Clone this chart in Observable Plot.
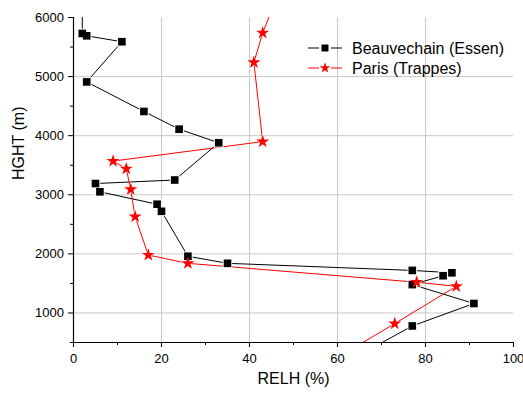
<!DOCTYPE html>
<html>
<head>
<meta charset="utf-8">
<script src="https://cdn.jsdelivr.net/npm/d3@7"></script>
<script src="https://cdn.jsdelivr.net/npm/@observablehq/plot@0.6"></script>
<style>
  html, body { margin: 0; padding: 0; background: #fff; }
  #wrap { position: relative; width: 523px; height: 394px; font-family: 'Liberation Sans', Arial, sans-serif; }
  #legend { position: absolute; left: 0; top: 0; pointer-events: none; }
</style>
</head>
<body>
<div id="wrap"></div>
<script>
// Beauvechain (Essen) sounding: relative humidity (%) and height (m)
const essenRelh = [2, 2, 3, 11, 3, 16, 24, 33, 23, 5, 6, 19, 20, 26, 35, 77, 86, 84, 77, 91, 77, 65];
const essenHght = [6300, 5730, 5690, 5590, 4910, 4410, 4110, 3880, 3250, 3190, 3050, 2840, 2720, 1960, 1840, 1720, 1680, 1630, 1480, 1160, 780, 290];
// Paris (Trappes) sounding
const trappesRelh = [46, 43, 41, 43, 9, 12, 13, 14, 17, 26, 78, 87, 73, 59];
const trappesHght = [6300, 5740, 5240, 3900, 3570, 3440, 3090, 2630, 1980, 1840, 1520, 1450, 820, 200];

const seriesNames = ["Beauvechain (Essen)", "Paris (Trappes)"];
const xMajor = [0, 20, 40, 60, 80, 100];
const xMinor = [10, 30, 50, 70, 90];
const yMajor = [1000, 2000, 3000, 4000, 5000, 6000];
const yMinor = [500, 1500, 2500, 3500, 4500, 5500];
const xGrid = [20, 40, 60, 80];
const yGrid = [1000, 2000, 3000, 4000, 5000];
const xTitle = "RELH (%)";
const yTitle = "HGHT (m)";

const essen = essenRelh.map((v, i) => ({relh: v, hght: essenHght[i]}));
const trappes = trappesRelh.map((v, i) => ({relh: v, hght: trappesHght[i]}));

const gridColor = "#c8c8c8";
const font = "'Liberation Sans', Arial, sans-serif";
const fmt = d3.format("d");

const chart = Plot.plot({
  width: 523,
  height: 394,
  marginLeft: 73,
  marginRight: 10,
  marginTop: 17,
  marginBottom: 52,
  x: {domain: [0, 100], axis: null, label: null},
  y: {domain: [500, 6000], axis: null, label: null},
  style: {fontFamily: font, fontSize: "13px", color: "#000", background: "#fff", overflow: "visible"},
  marks: [
    Plot.gridX(xGrid, {stroke: gridColor, strokeOpacity: 1, strokeWidth: 1}),
    Plot.gridY(yGrid, {stroke: gridColor, strokeOpacity: 1, strokeWidth: 1}),
    Plot.line(essen, {x: "relh", y: "hght", stroke: "#000", strokeWidth: 1, clip: true}),
    Plot.line(trappes, {x: "relh", y: "hght", stroke: "#ff0000", strokeWidth: 1, clip: true}),
    Plot.dot(essen, {x: "relh", y: "hght", symbol: "square", r: 5.4, fill: "#fff", stroke: null, clip: true}),
    Plot.dot(trappes, {x: "relh", y: "hght", symbol: "star", r: 4.9, fill: "#fff", stroke: null, clip: true}),
    Plot.dot(essen, {x: "relh", y: "hght", symbol: "square", r: 4.3, fill: "#000", stroke: null, clip: true}),
    Plot.dot(trappes, {x: "relh", y: "hght", symbol: "star", r: 4.1, fill: "#ff0000", stroke: null, clip: true}),
    Plot.ruleX([0], {stroke: "#000", strokeWidth: 1.2}),
    Plot.ruleY([500], {stroke: "#000", strokeWidth: 1.2}),
    Plot.axisX(xMajor, {anchor: "bottom", tickSize: 5, tickPadding: 6, fontSize: 13, label: null, stroke: "#000", tickFormat: fmt}),
    Plot.axisX(xMinor, {anchor: "bottom", tickSize: 3, tickFormat: () => "", label: null, stroke: "#000"}),
    Plot.axisY(yMajor, {anchor: "left", tickSize: 5, tickPadding: 4.5, fontSize: 13, label: null, stroke: "#000", tickFormat: fmt}),
    Plot.axisY(yMinor, {anchor: "left", tickSize: 3, tickFormat: () => "", label: null, stroke: "#000"}),
    Plot.text([xTitle], {frameAnchor: "bottom", dy: 41, fontSize: 16, fill: "#000", text: d => d}),
    Plot.text([yTitle], {frameAnchor: "left", dx: -55, rotate: -90, fontSize: 16, fill: "#000", text: d => d})
  ]
});

const wrap = document.getElementById("wrap");
wrap.appendChild(chart);

// Legend overlay
const leg = d3.select(wrap).append("svg")
  .attr("id", "legend").attr("width", 523).attr("height", 394);
const legendRows = [
  {name: seriesNames[0], color: "#000", symbol: d3.symbolSquare, size: 49, y: 48},
  {name: seriesNames[1], color: "#ff0000", symbol: d3.symbolStar, size: 36, y: 68}
];
for (const r of legendRows) {
  const g = leg.append("g");
  g.append("line").attr("x1", 308).attr("x2", 319).attr("y1", r.y).attr("y2", r.y).attr("stroke", r.color).attr("stroke-width", 1);
  g.append("line").attr("x1", 331).attr("x2", 342).attr("y1", r.y).attr("y2", r.y).attr("stroke", r.color).attr("stroke-width", 1);
  g.append("path").attr("d", d3.symbol(r.symbol, r.size)()).attr("transform", `translate(325,${r.y})`).attr("fill", r.color);
  g.append("text").attr("x", 352).attr("y", r.y + 5.6).attr("font-size", 16).attr("font-family", font).attr("fill", "#000").text(r.name);
}
</script>
</body>
</html>
